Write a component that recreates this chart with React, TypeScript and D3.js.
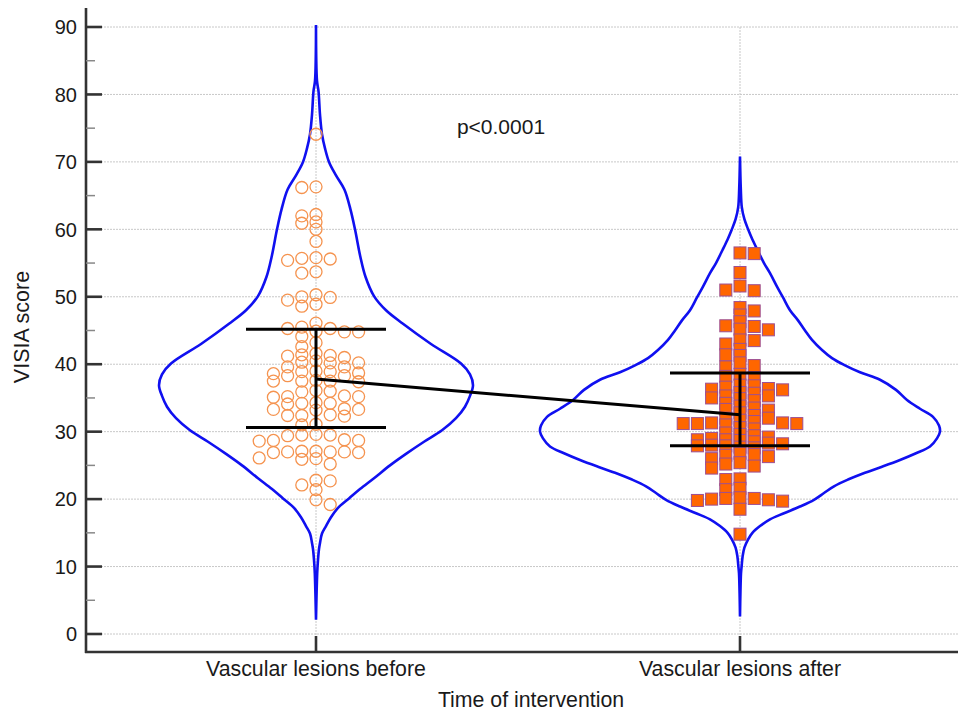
import React from 'react';
import * as d3 from 'd3';

const categories = ['Vascular lesions before', 'Vascular lesions after'];
const yTicks = [0, 10, 20, 30, 40, 50, 60, 70, 80, 90];
const yMinorTicks = [5, 15, 25, 35, 45, 55, 65, 75, 85];
const xTitle = 'Time of intervention';
const yTitle = 'VISIA score';
const pLabel = 'p<0.0001';

const beforeValues = [
  74.1,
  66.2, 66.3,
  62.0, 62.2, 61.1, 60.9, 60.0,
  58.2,
  55.4, 55.6, 55.7, 55.8,
  53.5, 53.7,
  50.0, 48.9, 50.3, 49.5, 49.9, 48.6,
  46.1,
  44.8, 44.8, 44.9, 45.3, 45.3, 45.5,
  44.1, 43.2, 42.6, 41.6,
  41.3, 41.2, 41.4, 41.0,
  40.5, 40.3, 40.2, 40.2,
  39.6, 39.6,
  38.9, 38.9, 39.0,
  38.6, 38.7,
  38.3, 38.3,
  37.5, 37.5, 37.6, 37.4, 37.5,
  36.0, 36.1, 35.9,
  35.2, 35.3, 35.1, 35.2,
  34.2, 34.3, 34.1, 34.2,
  33.3, 33.3, 33.4, 33.2,
  32.4, 32.5, 32.3, 32.4,
  31.1, 31.0,
  29.5, 29.6, 29.4, 29.5,
  28.7, 28.8, 28.6, 28.7,
  27.0, 27.1, 26.9, 27.0, 27.1, 27.0, 26.9,
  26.0, 26.1, 25.9, 25.2,
  22.7, 22.8, 22.1,
  21.4, 19.9, 19.2,
];

const afterValues = [
  56.4, 56.5, 53.6, 51.6, 50.9, 51.0,
  48.4, 47.9, 47.3, 46.3, 45.7, 45.6, 45.1, 45.2,
  43.0, 41.4, 39.6, 38.0, 43.6, 41.3, 39.8, 38.2, 43.5, 42.2, 40.2, 38.5,
  35.7, 35.8, 35.3, 36.3, 36.8, 36.2, 36.4, 34.9, 36.6, 35.0, 36.9, 35.3, 34.2, 34.6, 33.3,
  33.8, 32.4, 33.2, 31.7, 33.5, 32.0, 32.8, 31.5, 32.0,
  31.0, 31.2, 31.3, 31.2, 31.2, 31.3,
  30.4, 30.6,
  29.4, 28.0, 29.6, 28.2, 29.2, 28.5, 29.8, 28.3, 29.0, 27.6,
  27.7, 27.9, 27.9, 28.7, 28.8, 28.8,
  26.6, 25.2, 26.8, 25.4, 26.3, 24.9, 26.0, 24.6, 26.5,
  22.9, 23.0, 21.4, 21.6,
  19.7, 19.8, 19.9, 20.0, 20.1, 20.1, 20.2,
  18.5, 14.8,
];

const beforeViolinLevels = [90.3, 82, 80.5, 77, 74.1, 72, 70, 68, 65.9, 63, 60, 55.9, 53, 50.1, 48, 46, 43, 40.1, 38.5, 36.9, 35.3, 33.7, 32, 30.2, 28.5, 26.7, 25, 23.1, 21.5, 20.1, 18.7, 17.3, 16, 14.9, 13.5, 12.6, 11, 9, 2.1];
const beforeViolinDensity = [0, 0.005, 0.0125, 0.02, 0.03, 0.045, 0.065, 0.1, 0.142, 0.172, 0.195, 0.222, 0.247, 0.29, 0.35, 0.435, 0.575, 0.725, 0.77, 0.785, 0.77, 0.745, 0.7, 0.63, 0.54, 0.45, 0.37, 0.29, 0.22, 0.165, 0.11, 0.075, 0.05, 0.03, 0.02, 0.015, 0.01, 0.006, 0];

const afterViolinLevels = [70.8, 66, 63.3, 61.5, 59.9, 58.5, 56.9, 55, 53.5, 51.5, 49.9, 48, 46.5, 45, 43.6, 42.1, 40.9, 39.9, 38.8, 37.7, 36.2, 34.7, 33.4, 32.2, 30.9, 30, 29, 27.8, 26.8, 25.8, 24.8, 23.8, 22.9, 21.9, 20.9, 19.9, 18.9, 17.9, 17, 16, 15, 14, 12.8, 11.5, 10, 9, 2.6];
const afterViolinDensity = [0, 0.004, 0.009, 0.022, 0.042, 0.062, 0.088, 0.12, 0.15, 0.185, 0.215, 0.25, 0.29, 0.325, 0.36, 0.41, 0.46, 0.52, 0.6, 0.7, 0.78, 0.835, 0.9, 0.965, 0.995, 1.0, 0.985, 0.95, 0.88, 0.8, 0.71, 0.615, 0.54, 0.47, 0.42, 0.37, 0.3, 0.22, 0.15, 0.1, 0.062, 0.04, 0.022, 0.013, 0.008, 0.005, 0];

const upperBar = [45.2, 38.7];
const lowerBar = [30.6, 27.9];
const centerMark = [37.8, 32.5];

const W = 958;
const H = 711;
const left = 86;
const bottom = 652;
const FONT = '"Liberation Sans", Arial, sans-serif';

type P = { v: number; x: number; y: number };

function swarm(values: number[], y: (v: number) => number, cx: number, step: number, dxMin: number, dyMin: number): P[] {
  const sorted = values.map((v) => ({ v, y: y(v), x: cx })).sort((a, b) => b.v - a.v);
  const placed: P[] = [];
  const ks: number[] = [0];
  for (let i = 1; i < 40; i++) { ks.push(-i); ks.push(i); }
  sorted.forEach((p, idx) => {
    const order = idx % 2 === 0 ? ks : ks.map((k) => -k);
    for (const k of order) {
      const xx = cx + k * step;
      if (placed.every((q) => Math.abs(q.x - xx) >= dxMin || Math.abs(q.y - p.y) >= dyMin)) {
        p.x = xx;
        placed.push(p);
        break;
      }
    }
  });
  return placed;
}

export default function App() {
  const y = d3.scaleLinear().domain([0, 90]).range([634, 27]);
  const xPos = d3.scalePoint<string>().domain(categories).range([316, 740]);
  const wScale = d3.scaleLinear().domain([0, 1]).range([0, 200]);

  const violin = (levels: number[], dens: number[], cx: number) =>
    d3.area<number>()
      .y((_, i) => y(levels[i]))
      .x0((_, i) => cx - wScale(dens[i]))
      .x1((_, i) => cx + wScale(dens[i]))
      .curve(d3.curveCatmullRom)(levels) as string;

  const cxB = xPos(categories[0])!;
  const cxA = xPos(categories[1])!;
  const ptsB = swarm(beforeValues, y, cxB, 7.1, 13, 7);
  const ptsA = swarm(afterValues, y, cxA, 7.1, 13, 5.5);
  const cxs = [cxB, cxA];

  return (
    <svg width={W} height={H} style={{ position: 'absolute', left: 0, top: 0, background: '#fff' }} fontFamily={FONT}>
      {yTicks.map((t) => (
        <line key={'g' + t} x1={left} x2={W} y1={y(t)} y2={y(t)} stroke="#c8c8c8" strokeWidth={1} strokeDasharray="2,1" />
      ))}
      {cxs.map((c, i) => (
        <line key={'vg' + i} x1={c} x2={c} y1={y(90)} y2={bottom} stroke="#c8c8c8" strokeWidth={1} strokeDasharray="2,1" />
      ))}
      <path d={violin(beforeViolinLevels, beforeViolinDensity, cxB)} fill="none" stroke="#1010f0" strokeWidth={2.6} />
      <path d={violin(afterViolinLevels, afterViolinDensity, cxA)} fill="none" stroke="#1010f0" strokeWidth={2.6} />
      {ptsB.map((p, i) => (
        <circle key={'b' + i} cx={p.x} cy={p.y} r={6} fill="none" stroke="#f5934f" strokeWidth={1.3} />
      ))}
      {ptsA.map((p, i) => (
        <rect key={'a' + i} x={p.x - 6} y={p.y - 6} width={12} height={12} fill="#ff6600" stroke="#9c4f94" strokeWidth={1} />
      ))}
      {cxs.map((c, i) => (
        <g key={'eb' + i} stroke="#000" strokeWidth={3}>
          <line x1={c - 70} x2={c + 70} y1={y(upperBar[i])} y2={y(upperBar[i])} />
          <line x1={c - 70} x2={c + 70} y1={y(lowerBar[i])} y2={y(lowerBar[i])} />
          <line x1={c} x2={c} y1={y(upperBar[i])} y2={y(lowerBar[i])} />
        </g>
      ))}
      <line x1={cxB} y1={y(centerMark[0])} x2={cxA} y2={y(centerMark[1])} stroke="#000" strokeWidth={3} />
      <line x1={left} x2={left} y1={8} y2={bottom + 1} stroke="#333" strokeWidth={2.6} />
      <line x1={left - 1} x2={W} y1={bottom} y2={bottom} stroke="#333" strokeWidth={2.6} />
      {yTicks.map((t) => (
        <g key={'t' + t}>
          <line x1={left} x2={left + 16} y1={y(t)} y2={y(t)} stroke="#333" strokeWidth={2.6} />
          <text x={77} y={y(t)} dy="0.36em" textAnchor="end" fontSize={20} fill="#1a1a1a">{t}</text>
        </g>
      ))}
      {yMinorTicks.map((t) => (
        <line key={'m' + t} x1={left} x2={left + 9} y1={y(t)} y2={y(t)} stroke="#888" strokeWidth={1.5} />
      ))}
      {categories.map((c, i) => (
        <g key={'c' + i}>
          <line x1={cxs[i]} x2={cxs[i]} y1={bottom} y2={bottom - 16} stroke="#333" strokeWidth={2.6} />
          <text x={cxs[i]} y={676} textAnchor="middle" fontSize={21.3} fill="#1a1a1a">{c}</text>
        </g>
      ))}
      <text x={531} y={707} textAnchor="middle" fontSize={21.3} fill="#1a1a1a">{xTitle}</text>
      <text transform={`translate(29,${327}) rotate(-90)`} textAnchor="middle" fontSize={21.5} fill="#1a1a1a">{yTitle}</text>
      <text x={501} y={134} textAnchor="middle" fontSize={21} fill="#1a1a1a">{pLabel}</text>
    </svg>
  );
}
